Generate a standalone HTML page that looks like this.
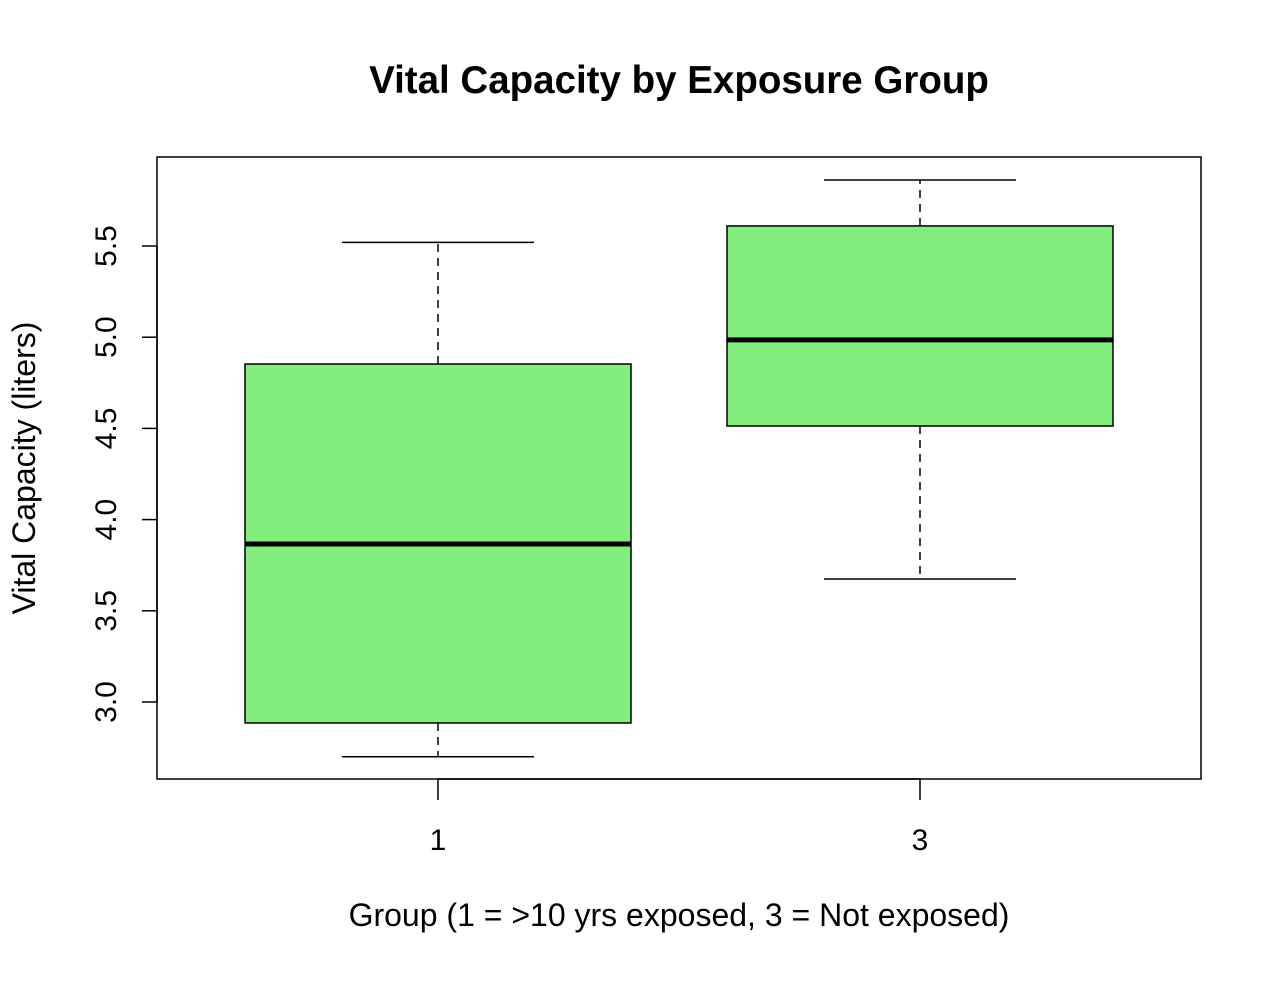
<!DOCTYPE html>
<html><head><meta charset="utf-8"><style>
body{margin:0;background:#fff}
svg text{font-family:"Liberation Sans",Arial,sans-serif;fill:#000}
</style></head><body>
<svg width="1282" height="976" viewBox="0 0 1282 976">
<text x="679" y="93" font-size="38.5" font-weight="bold" text-anchor="middle">Vital Capacity by Exposure Group</text>
<rect x="157" y="157" width="1044" height="622" fill="none" stroke="#000" stroke-width="1.5"/>
<g id="yaxis"></g>
<g id="xaxis"></g>
<g id="boxes"></g>
<text x="679" y="926" font-size="32" text-anchor="middle">Group (1 = &gt;10 yrs exposed, 3 = Not exposed)</text>
<text transform="translate(35,468) rotate(-90)" font-size="32" text-anchor="middle">Vital Capacity (liters)</text>
</svg>
<script>
const categories = ["1", "3"];
const whiskerLow = [2.70, 3.674];
const q1 = [2.885, 4.513];
const median = [3.866, 4.985];
const q3 = [4.853, 5.61];
const whiskerHigh = [5.52, 5.862];
const yTicks = [3.0, 3.5, 4.0, 4.5, 5.0, 5.5];
const yTickLabels = ["3.0", "3.5", "4.0", "4.5", "5.0", "5.5"];

const NS = "http://www.w3.org/2000/svg";
function y(v){ return 702 - (v - 3.0) * 182.4; }
function x(i){ return 438 + i * 482; }
function mk(tag, attrs, parent){
  const e = document.createElementNS(NS, tag);
  for (const k in attrs) e.setAttribute(k, attrs[k]);
  parent.appendChild(e); return e;
}
const ya = document.getElementById("yaxis");
mk("line",{x1:157,x2:157,y1:y(yTicks[0]),y2:y(yTicks[yTicks.length-1]),stroke:"#000","stroke-width":1.5},ya);
yTicks.forEach((t,i)=>{
  const l = mk("line",{x1:142,x2:157,y1:y(t),y2:y(t),stroke:"#000","stroke-width":1.5},ya);
  
  
  const tx = mk("text",{transform:`translate(116,${y(t)}) rotate(-90)`,"font-size":30,"text-anchor":"middle"},ya);
  tx.textContent = yTickLabels[i];
  
  
});
const xa = document.getElementById("xaxis");
mk("line",{x1:x(0),x2:x(categories.length-1),y1:779,y2:779,stroke:"#000","stroke-width":1.5},xa);
categories.forEach((c,i)=>{
  const l = mk("line",{x1:x(i),x2:x(i),y1:779,y2:800,stroke:"#000","stroke-width":1.5},xa);
  
  
  const tx = mk("text",{x:x(i),y:850,"font-size":30,"text-anchor":"middle"},xa);
  tx.textContent = c;
  
  
});
const bg = document.getElementById("boxes");
categories.forEach((c,i)=>{
  const cx = x(i), hw = 193, cw = 96;
  const g = mk("g",{},bg);
  
  
  mk("line",{x1:cx,x2:cx,y1:y(q3[i]),y2:y(whiskerHigh[i]),stroke:"#000","stroke-width":1.5,"stroke-dasharray":"8,6"},g);
  mk("line",{x1:cx,x2:cx,y1:y(q1[i]),y2:y(whiskerLow[i]),stroke:"#000","stroke-width":1.5,"stroke-dasharray":"8,6"},g);
  mk("line",{x1:cx-cw,x2:cx+cw,y1:y(whiskerHigh[i]),y2:y(whiskerHigh[i]),stroke:"#000","stroke-width":1.5},g);
  mk("line",{x1:cx-cw,x2:cx+cw,y1:y(whiskerLow[i]),y2:y(whiskerLow[i]),stroke:"#000","stroke-width":1.5},g);
  const r = mk("rect",{x:cx-hw,y:y(q3[i]),width:2*hw,height:y(q1[i])-y(q3[i]),fill:"#83ee7e",stroke:"#000","stroke-width":1.5},g);
  
  
  const m = mk("line",{x1:cx-hw,x2:cx+hw,y1:y(median[i]),y2:y(median[i]),stroke:"#000","stroke-width":5},g);
  
  
});
</script>
</body></html>
